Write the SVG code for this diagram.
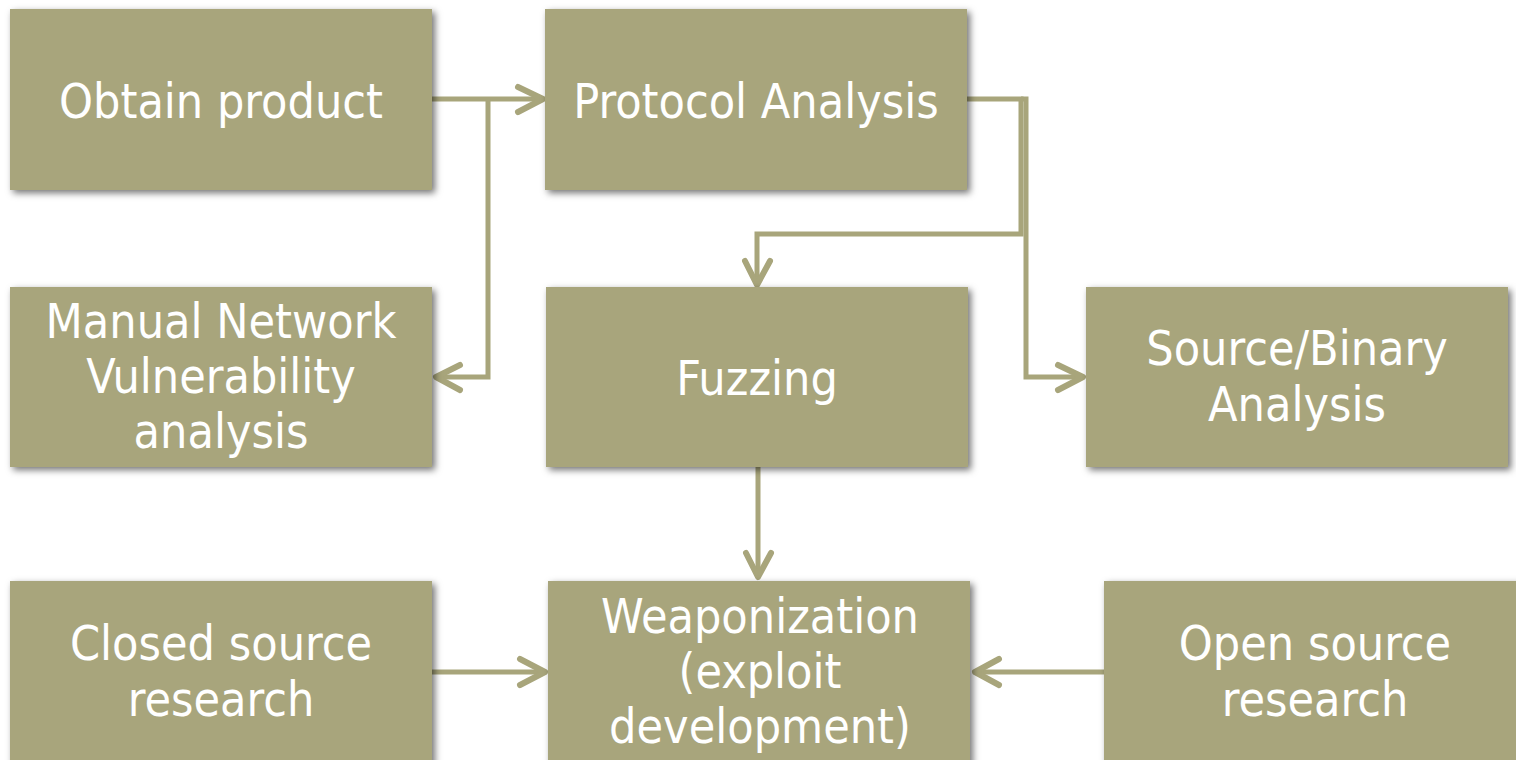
<svg xmlns="http://www.w3.org/2000/svg" width="1516" height="760" viewBox="0 0 1516 760">
<style>
.box{fill:#A8A57B;filter:url(#sh)}
.t{fill:#FFFFFF;font-family:"DejaVu Sans Condensed","DejaVu Sans","Open Sans",sans-serif;font-stretch:condensed;font-size:48px;text-anchor:middle}
.c{fill:none;stroke:#A8A57B;stroke-width:5;stroke-linejoin:miter}
.a{fill:none;stroke:#A8A57B;stroke-width:6;stroke-linecap:round;stroke-linejoin:round}
</style>
<defs>
<filter id="sh" x="-10%" y="-10%" width="125%" height="130%">
<feDropShadow dx="3" dy="3" stdDeviation="3.5" flood-color="#000" flood-opacity="0.55"/>
</filter>
</defs>
<rect width="1516" height="760" fill="#FFFFFF"/>
<g id="connectors">
<path class="c" d="M432,99 H543"/>
<path class="a" d="M518,87 L543,99 L518,112"/>
<path class="c" d="M488,99 V377 H436"/>
<path class="a" d="M460,365 L436,377 L460,390"/>
<path class="c" d="M967,99 H1021 V234 H757 V285"/>
<path class="a" d="M745,261 L757,285 L770,261"/>
<path class="c" d="M1021,99 H1026 V377 H1083"/>
<path class="a" d="M1058,365 L1083,377 L1058,390"/>
<path class="c" d="M758,467 V577"/>
<path class="a" d="M746,553 L758,577 L771,553"/>
<path class="c" d="M432,672 H545"/>
<path class="a" d="M520,659 L545,672 L520,685"/>
<path class="c" d="M1105,672 H975"/>
<path class="a" d="M999,659 L975,672 L999,685"/>
</g>
<g id="n-obtain"><rect class="box" x="10" y="9" width="422" height="181"/><text class="t" x="221" y="118">Obtain product</text></g>
<g id="n-protocol"><rect class="box" x="545" y="9" width="422" height="181"/><text class="t" x="756" y="118">Protocol Analysis</text></g>
<g id="n-manual"><rect class="box" x="10" y="287" width="422" height="180"/><text class="t" x="221" y="338">Manual Network</text><text class="t" x="221" y="393">Vulnerability</text><text class="t" x="221" y="448">analysis</text></g>
<g id="n-fuzzing"><rect class="box" x="546" y="287" width="422" height="180"/><text class="t" x="757" y="395">Fuzzing</text></g>
<g id="n-source"><rect class="box" x="1086" y="287" width="422" height="180"/><text class="t" x="1297" y="365">Source/Binary</text><text class="t" x="1297" y="421">Analysis</text></g>
<g id="n-closed"><rect class="box" x="10" y="581" width="422" height="190"/><text class="t" x="221" y="660">Closed source</text><text class="t" x="221" y="716">research</text></g>
<g id="n-weapon"><rect class="box" x="548" y="581" width="422" height="190"/><text class="t" x="760" y="633">Weaponization</text><text class="t" x="760" y="688">(exploit</text><text class="t" x="760" y="743">development)</text></g>
<g id="n-open"><rect class="box" x="1104" y="581" width="430" height="190"/><text class="t" x="1315" y="660">Open source</text><text class="t" x="1315" y="716">research</text></g>
</svg>
